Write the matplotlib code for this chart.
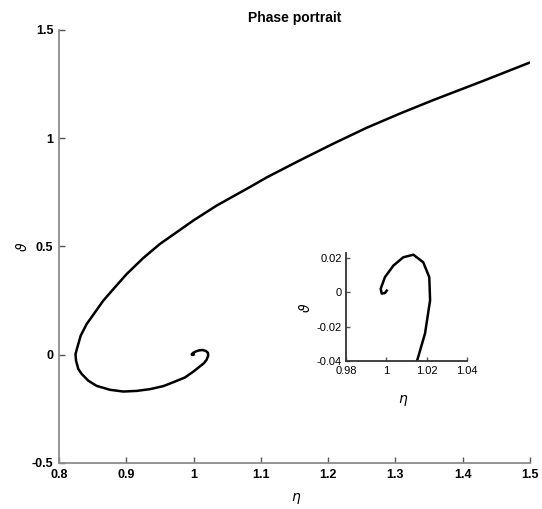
import matplotlib
matplotlib.use("Agg")
import matplotlib.pyplot as plt

eta = [1.5, 1.4305, 1.356, 1.3067, 1.257, 1.2077, 1.158, 1.1086, 1.084, 1.0343,
       0.9996, 0.9749, 0.9501, 0.9253, 0.9006, 0.8832, 0.8658, 0.8535, 0.8411,
       0.8322, 0.8272, 0.8245, 0.8253, 0.8287, 0.8337, 0.8436, 0.8560, 0.8758,
       0.8955, 0.9155, 0.9352, 0.9550, 0.9698, 0.9872, 0.9996, 1.0154, 1.0192,
       1.0217, 1.0213, 1.0183, 1.0134, 1.0084, 1.0035, 0.9993, 0.9972, 0.9977,
       0.9993, 1.0002]
theta = [1.35, 1.265, 1.176, 1.114, 1.048, 0.975, 0.898, 0.819, 0.775, 0.689,
         0.620, 0.566, 0.512, 0.447, 0.373, 0.312, 0.25, 0.196, 0.142,
         0.088, 0.034, 0.003, -0.028, -0.066, -0.089, -0.120, -0.144, -0.162,
         -0.170, -0.167, -0.159, -0.145, -0.127, -0.105, -0.078, -0.039, -0.0237,
         -0.0046, 0.0088, 0.0174, 0.0218, 0.0203, 0.0155, 0.0088, 0.0021, -0.0007,
         -0.0004, 0.001]

main_xticks = [0.8, 0.9, 1.0, 1.1, 1.2, 1.3, 1.4, 1.5]
main_xlabels = ["0.8", "0.9", "1", "1.1", "1.2", "1.3", "1.4", "1.5"]
main_yticks = [-0.5, 0, 0.5, 1, 1.5]
main_ylabels = ["-0.5", "0", "0.5", "1", "1.5"]
ins_xticks = [0.98, 1.0, 1.02, 1.04]
ins_xlabels = ["0.98", "1", "1.02", "1.04"]
ins_yticks = [-0.04, -0.02, 0, 0.02]
ins_ylabels = ["-0.04", "-0.02", "0", "0.02"]

plt.rcParams['font.family'] = ['Liberation Sans', 'DejaVu Sans']

fig = plt.figure(figsize=(5.42, 5.09), dpi=100)
ax = fig.add_axes([0.1089, 0.0904, 0.869, 0.8507])
ax.plot(eta, theta, color='black', lw=1.8, solid_joinstyle='round')
ax.set_xlim(0.8, 1.5)
ax.set_ylim(-0.5, 1.5)
ax.set_xticks(main_xticks)
ax.set_xticklabels(main_xlabels, fontweight='bold', fontsize=9)
ax.set_yticks(main_yticks)
ax.set_yticklabels(main_ylabels, fontweight='bold', fontsize=9)
for s in ['top', 'right']:
    ax.spines[s].set_visible(False)
for s in ['left', 'bottom']:
    ax.spines[s].set_color('#8c8c8c')
    ax.spines[s].set_linewidth(1.3)
ax.tick_params(direction='in', length=4, color='#555555', width=1, pad=4)
ax.set_title('Phase portrait', fontweight='bold', fontsize=10, pad=6)
ax.set_xlabel(r'$\eta$', fontsize=10)
ax.xaxis.set_label_coords(0.503, -0.065)
ax.set_ylabel(r'$\vartheta$', fontsize=10)
ax.yaxis.set_label_coords(-0.062, 0.5)

ins = fig.add_axes([0.6384, 0.2898, 0.2232, 0.2122])
ins.plot(eta, theta, color='black', lw=1.8, solid_joinstyle='round')
ins.set_xlim(0.98, 1.04)
ins.set_ylim(-0.04, 0.0225)
ins.set_xticks(ins_xticks)
ins.set_xticklabels(ins_xlabels, fontsize=8)
ins.set_yticks(ins_yticks)
ins.set_yticklabels(ins_ylabels, fontsize=8)
for s in ['top', 'right']:
    ins.spines[s].set_visible(False)
for s in ['left', 'bottom']:
    ins.spines[s].set_color('#333333')
    ins.spines[s].set_linewidth(1.3)
ins.tick_params(direction='in', length=3, color='#555555', width=1, pad=3)
ins.set_xlabel(r'$\eta$', fontsize=10)
ins.xaxis.set_label_coords(0.47, -0.29)
ins.set_ylabel(r'$\vartheta$', fontsize=10)
ins.yaxis.set_label_coords(-0.27, 0.5)
ins.patch.set_alpha(0)

fig.savefig('out.png', dpi=100)
